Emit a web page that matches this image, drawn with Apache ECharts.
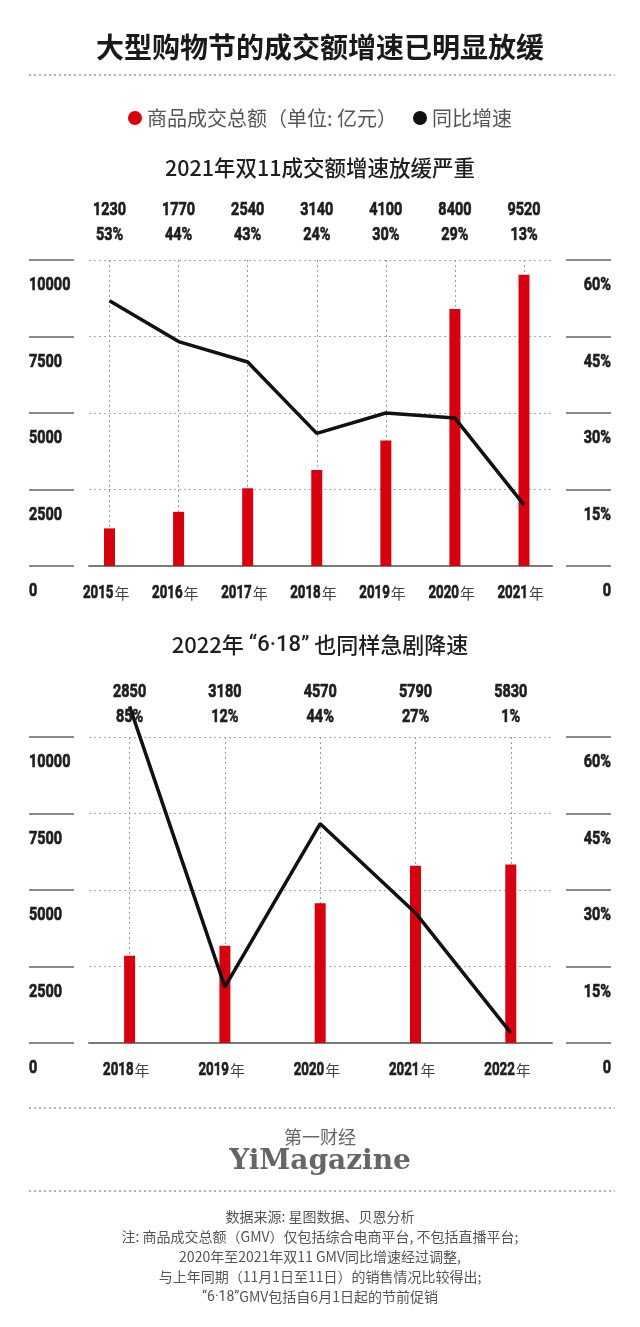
<!DOCTYPE html>
<html><head><meta charset="utf-8">
<script src="https://cdn.jsdelivr.net/npm/echarts@6/dist/echarts.min.js"></script>
<style>html,body{margin:0;padding:0;background:#fff}#c{width:640px;height:1327px}</style>
</head><body><div id="c"></div>
<script>
// ---- data ----
const years1 = ['2015','2016','2017','2018','2019','2020','2021'];
const gmv1 = [1230, 1770, 2540, 3140, 4100, 8400, 9520];
const pctLabels1 = ['53%','44%','43%','24%','30%','29%','13%'];
const growth1 = [52, 44, 40, 26, 30, 29, 12];

const years2 = ['2018','2019','2020','2021','2022'];
const gmv2 = [2850, 3180, 4570, 5790, 5830];
const pctLabels2 = ['85%','12%','44%','27%','1%'];
const growth2 = [66, 11, 43, 25.5, 2];

const gmvTicks = [0, 2500, 5000, 7500, 10000];
const pctTicks = [0, 15, 30, 45, 60];
const yearSuffix = '年';

const seriesNames = ['商品成交总额（单位: 亿元）', '同比增速'];
const titleText = '大型购物节的成交额增速已明显放缓';
const sub1 = '2021年双11成交额增速放缓严重';
const sub2 = '2022年 {q|“6·18”} 也同样急剧降速';
const brandCn = '第一财经';
const brandEn = 'YiMagazine';
const notes = [
  '数据来源: 星图数据、贝恩分析',
  '注: 商品成交总额（GMV）仅包括综合电商平台, 不包括直播平台;',
  '2020年至2021年双11 GMV同比增速经过调整,',
  '与上年同期（11月1日至11日）的销售情况比较得出;',
  '{q|“6·18”}GMV包括自6月1日起的节前促销'
];

// ---- style ----
const CJK = "'Noto Sans CJK SC','Noto Sans',sans-serif";
const NUMFONT = "bold 19px Roboto, 'DejaVu Sans', sans-serif";
const NUM_SCALE = 0.76;
const YEAR_SCALE = 0.70;
const RED = '#d7000f';
const BLACK = '#111';
const TXT = '#1e1e1e';

function buildChart(gi, xi, yi, top, dataLeft, dataWidth, years, gmv, growth) {
  const H = 306;
  const grids = [
    {left: 89, width: 463, top: top, height: H},
    {left: dataLeft, width: dataWidth, top: top, height: H},
    {left: 29, width: 45, top: top, height: H},
    {left: 566, width: 45, top: top, height: H}
  ];
  const xAxes = [
    {gridIndex: gi, type: 'value', min: 0, max: 1, axisLabel: {show: false}, axisTick: {show: false}, splitLine: {show: false},
      axisLine: {show: true, lineStyle: {color: '#7a7a7a', width: 2}}},
    {gridIndex: gi + 1, type: 'category', data: years, boundaryGap: false, position: 'bottom',
      axisLine: {show: false}, axisTick: {show: false}, axisLabel: {show: false},
      splitLine: {show: true, lineStyle: {color: '#9a9a9a', width: 1, type: [2, 3]}}},
    {gridIndex: gi + 2, type: 'value', show: false},
    {gridIndex: gi + 3, type: 'value', show: false}
  ];
  const yAxes = [
    {gridIndex: gi, type: 'value', min: gmvTicks[0], max: gmvTicks[4], interval: gmvTicks[1] - gmvTicks[0],
      axisLine: {show: false}, axisTick: {show: false}, axisLabel: {show: false},
      splitLine: {show: true, lineStyle: {color: '#a8a8a8', width: 1, type: [2, 3]}}},
    {gridIndex: gi + 1, type: 'value', min: gmvTicks[0], max: gmvTicks[4], show: false},
    {gridIndex: gi + 1, type: 'value', min: pctTicks[0], max: pctTicks[4], show: false},
    {gridIndex: gi + 2, type: 'value', min: gmvTicks[0], max: gmvTicks[4], interval: gmvTicks[1] - gmvTicks[0], position: 'left',
      axisLine: {show: false}, axisTick: {show: false}, axisLabel: {show: false},
      splitLine: {show: true, lineStyle: {color: '#8a8a8a', width: 2}}},
    {gridIndex: gi + 3, type: 'value', min: pctTicks[0], max: pctTicks[4], interval: pctTicks[1] - pctTicks[0], position: 'right',
      axisLine: {show: false}, axisTick: {show: false}, axisLabel: {show: false},
      splitLine: {show: true, lineStyle: {color: '#8a8a8a', width: 2}}}
  ];
  const series = [
    {name: seriesNames[0], type: 'bar', xAxisIndex: xi + 1, yAxisIndex: yi + 1, data: gmv, barWidth: 11, clip: false,
      itemStyle: {color: RED}, z: 3},
    {name: seriesNames[1], type: 'line', xAxisIndex: xi + 1, yAxisIndex: yi + 2, data: growth, symbol: 'none', clip: false,
      lineStyle: {color: BLACK, width: 3.5}, itemStyle: {color: BLACK}, z: 4}
  ];
  return {grids, xAxes, yAxes, series};
}

const c1 = buildChart(0, 0, 0, 260, 109.5, 414.5, years1, gmv1, growth1);
const c2 = buildChart(4, 4, 5, 737, 129.6, 381.2, years2, gmv2, growth2);

const sep = y => ({type: 'line', shape: {x1: 29, y1: y, x2: 615, y2: y}, style: {stroke: '#9a9a9a', lineWidth: 1.5, lineDash: [2, 3]}, silent: true});

const option = {
  backgroundColor: '#fff',
  animation: false,
  title: [
    {text: titleText, left: 'center', top: 30, padding: 0, textStyle: {fontFamily: CJK, fontSize: 28, fontWeight: 'bold', color: '#1a1a1a', lineHeight: 34}},
    {text: sub1, left: 'center', top: 154, padding: 0, textStyle: {fontFamily: CJK, fontSize: 21.5, fontWeight: 500, color: '#1f1f1f', lineHeight: 28}},
    {text: sub2, left: 'center', top: 631, padding: 0, textStyle: {fontFamily: CJK, fontSize: 22, fontWeight: 500, color: '#1f1f1f', lineHeight: 28,
      rich: {q: {fontFamily: 'Roboto', fontSize: 22, color: '#1f1f1f', lineHeight: 28}}}},
    {text: brandCn, left: 'center', top: 1126, padding: 0, textStyle: {fontFamily: CJK, fontSize: 18, fontWeight: 'normal', color: '#666', lineHeight: 22}},
    {text: brandEn, left: 'center', top: 1144, padding: 0, textStyle: {fontFamily: "'DejaVu Serif',serif", fontSize: 28, fontWeight: 'bold', color: '#666', lineHeight: 36}},
    {text: notes.join('\n'), left: 320, top: 1207, padding: 0, textAlign: 'center',
      textStyle: {fontFamily: CJK, fontSize: 14, fontWeight: 'normal', color: '#555', lineHeight: 20,
        rich: {q: {fontFamily: 'Roboto', fontSize: 14, color: '#555', lineHeight: 20}}}}
  ],
  legend: {
    data: seriesNames, top: 103, left: 'center', icon: 'circle', itemWidth: 14, itemHeight: 14, itemGap: 16,
    selectedMode: false, textStyle: {fontFamily: CJK, fontSize: 20, color: '#555'}
  },
  grid: [...c1.grids, ...c2.grids],
  xAxis: [...c1.xAxes, ...c2.xAxes],
  yAxis: [...c1.yAxes, ...c2.yAxes],
  series: [...c1.series, ...c2.series],
  graphic: [sep(75), sep(1108), sep(1191)]
};

const chart = echarts.init(document.getElementById('c'), null, {renderer: 'canvas'});
chart.setOption(option);

// ---- condensed numeric labels, placed through the axes' own scales ----
function numText(x, y, text, align, scale) {
  return {type: 'text', x: x, y: y, scaleX: scale, silent: true, z: 10,
    style: {text: text, font: NUMFONT, fill: TXT, stroke: TXT, lineWidth: 0.7,
      align: align, verticalAlign: 'middle', textAlign: align, textVerticalAlign: 'middle'}};
}
function cjkText(x, y, text) {
  return {type: 'text', x: x, y: y, silent: true, z: 10,
    style: {text: text, font: "15px 'Noto Sans CJK SC'", fill: '#444', align: 'left', verticalAlign: 'middle', textAlign: 'left', textVerticalAlign: 'middle'}};
}
function labels(xCatAxis, yLeftAxis, yRightAxis, years, gmv, pctLabels, topOff) {
  const els = [];
  const yTop = chart.convertToPixel({yAxisIndex: yLeftAxis}, gmvTicks[gmvTicks.length - 1]);
  const yBase = chart.convertToPixel({yAxisIndex: yLeftAxis}, gmvTicks[0]);
  years.forEach((yr, i) => {
    const cx = chart.convertToPixel({xAxisIndex: xCatAxis}, yr);
    els.push(numText(cx, yTop - topOff - 25, String(gmv[i]), 'center', NUM_SCALE));
    els.push(numText(cx, yTop - topOff, pctLabels[i], 'center', NUM_SCALE));
    els.push(numText(cx + 4, yBase + 27.5, yr, 'right', YEAR_SCALE));
    els.push(cjkText(cx + 5, yBase + 27.5, yearSuffix));
  });
  gmvTicks.forEach(v => {
    const y = chart.convertToPixel({yAxisIndex: yLeftAxis}, v);
    els.push(numText(29, y + 25.5, String(v), 'left', NUM_SCALE));
  });
  pctTicks.forEach(v => {
    const y = chart.convertToPixel({yAxisIndex: yRightAxis}, v);
    els.push(numText(611, y + 25.5, v === 0 ? '0' : v + '%', 'right', NUM_SCALE));
  });
  return els;
}
const extra = [
  ...labels(1, 3, 4, years1, gmv1, pctLabels1, 25),
  ...labels(5, 8, 9, years2, gmv2, pctLabels2, 19.5)
];
chart.setOption({graphic: [sep(75), sep(1108), sep(1191), ...extra]});
</script>
</body></html>
